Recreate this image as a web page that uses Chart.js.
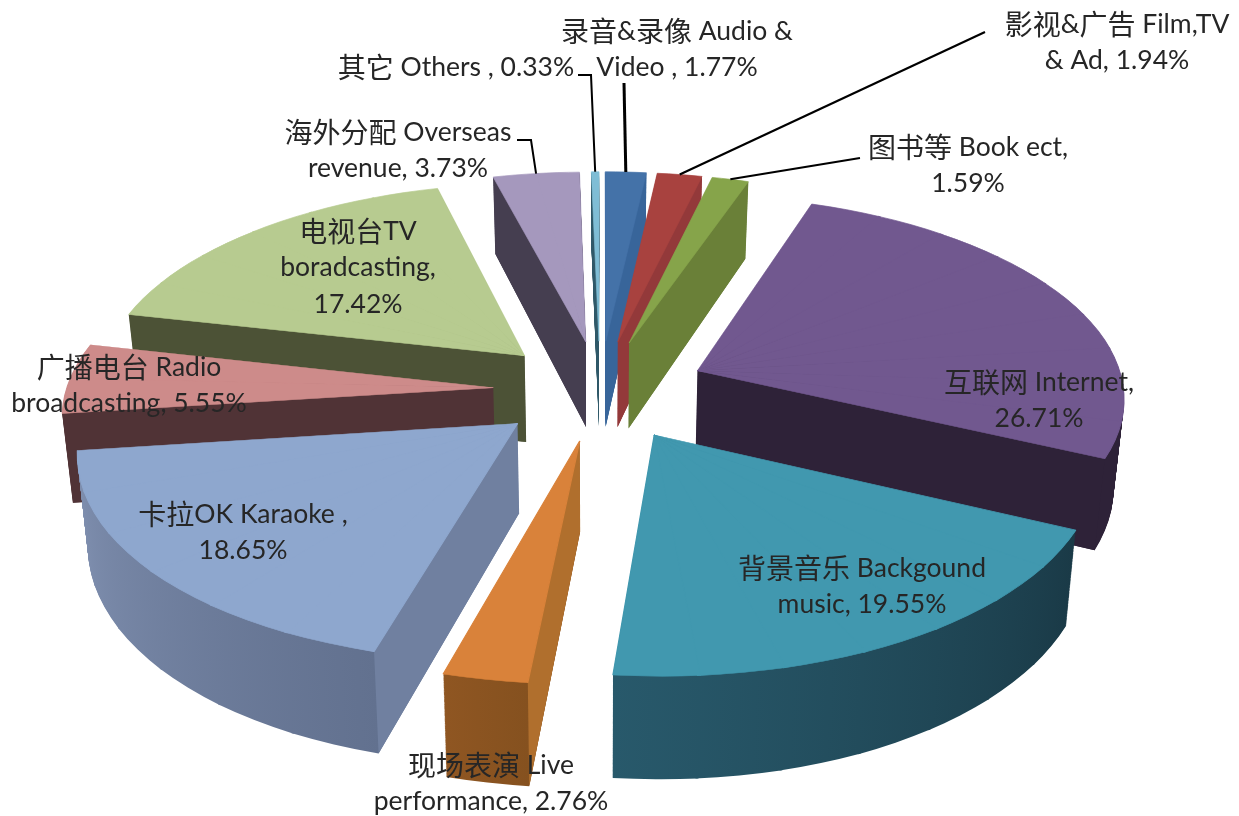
<!DOCTYPE html>
<html>
<head>
<meta charset="utf-8">
<title>Revenue share pie</title>
<script src="https://cdn.jsdelivr.net/npm/chart.js@4"></script>
<style>
  html, body { margin: 0; padding: 0; background: #fff; }
  canvas { display: block; }
</style>
</head>
<body>
<canvas id="canvas" width="1239" height="816"></canvas>
<script>
// the data, clockwise from the top
let categories = ['录音&录像 Audio & Video', '影视&广告 Film,TV & Ad', '图书等 Book ect', '互联网 Internet',
  '背景音乐 Backgound music', '现场表演 Live performance', '卡拉OK Karaoke', '广播电台 Radio broadcasting',
  '电视台TV boradcasting', '海外分配 Overseas revenue', '其它 Others'];
let shares = [1.77, 1.94, 1.59, 26.71, 19.55, 2.76, 18.65, 5.55, 17.42, 3.73, 0.33];

// the label text, line by line
let labelLines = [
  ['录音&录像 Audio &', 'Video , 1.77%'],
  ['影视&广告 Film,TV', '& Ad, 1.94%'],
  ['图书等 Book ect,', '1.59%'],
  ['互联网 Internet,', '26.71%'],
  ['背景音乐 Backgound', 'music, 19.55%'],
  ['现场表演 Live', 'performance, 2.76%'],
  ['卡拉OK Karaoke ,', '18.65%'],
  ['广播电台 Radio', 'broadcasting, 5.55%'],
  ['电视台TV', 'boradcasting,', '17.42%'],
  ['海外分配 Overseas', 'revenue, 3.73%'],
  ['其它 Others , 0.33%']
];

// colours of each slice
let topColors = ['#4472a8', '#a8423f', '#86a44a', '#71588f', '#4198af', '#d9823a', '#8ea7ce', '#cd8b8a', '#b7cb90', '#a598bd', '#7fbdd5'];
let cutColors = ['#38659a', '#93393a', '#6a8038', '#2e2238', '#1a3c49', '#b06f2d', '#7080a0', '#503336', '#4c5236', '#453e50', '#2f5868'];
let rimStart = ['#38659a', '#93393a', '#6a8038', '#2e2238', '#1a3a47', '#85511f', '#62718f', '#503336', '#4c5236', '#453e50', '#2f5868'];
let rimEnd = ['#38659a', '#93393a', '#6a8038', '#2e2238', '#28596b', '#8f5622', '#8090b0', '#503336', '#4c5236', '#453e50', '#2f5868'];

// where the labels sit (centre x, centre y of the first line)
let labelX = [677, 1117, 968, 1039, 862, 491, 243, 129, 358, 398, 456];
let labelY = [31, 24, 147, 382, 568, 765, 514, 367, 231, 132, 67];
let lineGap = 36.5;

// leader lines: the points before the one on the slice rim
let leaders = {
  0: { width: 3, points: [[624, 83]] },
  1: { width: 2.2, points: [[985, 32]] },
  2: { width: 2, points: [[860, 158]] },
  9: { width: 2, points: [[517, 140], [531, 140]] },
  10: { width: 2, points: [[578, 75], [591, 75]] }
};

// fake 3d view of the pie
let view = { cx: 600, cy: 390, radius: 427, explode: 107, tilt: 0.47, persp: 0.12, depth: 88, shrink: 0.02, step: 0.2 };

function project(x, y, z) {
  let w = 1 + view.persp * y / view.radius;
  let sx = view.cx + x / w;
  let sy = view.cy - view.tilt * y / w;
  return [view.cx + (sx - view.cx) * (1 - view.shrink * z), sy + view.depth * z / w];
}

// corners of a slice on the screen; a and b are chart angles and may be a part of the slice
function corners(arc, z, a0, b0) {
  let m = (arc.startAngle + arc.endAngle) / 2 + Math.PI / 2;
  let a = (a0 === undefined ? arc.startAngle : a0) + Math.PI / 2;
  let b = (b0 === undefined ? arc.endAngle : b0) + Math.PI / 2;
  let ox = view.explode * Math.sin(m);
  let oy = view.explode * Math.cos(m);
  let r = view.radius;
  return {
    apex: project(ox, oy, z),
    start: project(ox + r * Math.sin(a), oy + r * Math.cos(a), z),
    end: project(ox + r * Math.sin(b), oy + r * Math.cos(b), z),
    mid: project(ox + r * Math.sin(m), oy + r * Math.cos(m), z)
  };
}

// draw the library's arc, mapped on to the screen corners. canvas transforms
// can't do perspective so wide slices go in small wedges, each with its own map
function drawArc(ctx, arc, z, fill) {
  let first = arc.startAngle, last = arc.endAngle, sweep = arc.circumference;
  let saved = arc.options;
  let r = arc.outerRadius;
  let fillStyle = fill;
  let border = { borderWidth: 1, borderColor: fill };
  if (Array.isArray(fill)) {
    fillStyle = ctx.createLinearGradient(arc.x + r * Math.cos(first), arc.y + r * Math.sin(first),
      arc.x + r * Math.cos(last), arc.y + r * Math.sin(last));
    fillStyle.addColorStop(0, fill[0]);
    fillStyle.addColorStop(1, fill[1]);
    border = { borderWidth: 0 };
  }
  // a thin border of the same colour hides the seams on the top face
  arc.options = Object.assign({}, saved, { backgroundColor: fillStyle }, border);
  let parts = Math.max(1, Math.ceil(sweep / view.step));
  for (let n = 0; n < parts; n++) {
    let a = first + sweep * n / parts;
    let b = first + sweep * (n + 1) / parts;
    let c = corners({ startAngle: first, endAngle: last }, z, a, b);
    let ux = r * Math.cos(a), uy = r * Math.sin(a);
    let vx = r * Math.cos(b), vy = r * Math.sin(b);
    let det = ux * vy - uy * vx;
    let px = c.start[0] - c.apex[0], py = c.start[1] - c.apex[1];
    let qx = c.end[0] - c.apex[0], qy = c.end[1] - c.apex[1];
    let ma = (px * vy - qx * uy) / det;
    let mc = (qx * ux - px * vx) / det;
    let mb = (py * vy - qy * uy) / det;
    let md = (qy * ux - py * vx) / det;
    ctx.save();
    ctx.transform(ma, mb, mc, md, c.apex[0] - ma * arc.x - mc * arc.y, c.apex[1] - mb * arc.x - md * arc.y);
    // small overlap so no seams show between the wedges
    arc.startAngle = a;
    arc.endAngle = n === parts - 1 ? b : b + 0.006;
    arc.circumference = arc.endAngle - a;
    arc.draw(ctx);
    ctx.restore();
  }
  arc.startAngle = first;
  arc.endAngle = last;
  arc.circumference = sweep;
  arc.options = saved;
}

// the flat cut faces, only the ones turned to the viewer
function drawCut(ctx, arc, edge, other, color) {
  let top = corners(arc, 0), bottom = corners(arc, 1);
  let dx = top[edge][0] - top.apex[0], dy = top[edge][1] - top.apex[1];
  let nx = -dy, ny = dx;
  if (ny < 0) { nx = -nx; ny = -ny; }
  let side = (top[other][0] - top.apex[0]) * nx + (top[other][1] - top.apex[1]) * ny;
  if (side >= 0) return;
  ctx.fillStyle = color;
  ctx.beginPath();
  ctx.moveTo(top.apex[0], top.apex[1]);
  ctx.lineTo(top[edge][0], top[edge][1]);
  ctx.lineTo(bottom[edge][0], bottom[edge][1]);
  ctx.lineTo(bottom.apex[0], bottom.apex[1]);
  ctx.closePath();
  ctx.fill();
}

let pie3d = {
  id: 'pie3d',
  beforeDatasetsDraw: function(chart) {
    let ctx = chart.ctx;
    let arcs = chart.getDatasetMeta(0).data;
    // paint from the back of the pie to the front
    let order = arcs.map((arc, i) => i).sort(function(i, j) {
      return corners(arcs[i], 0).apex[1] - corners(arcs[j], 0).apex[1];
    });
    order.forEach(function(i) {
      let arc = arcs[i];
      for (let d = view.depth; d > 0; d--) {
        drawArc(ctx, arc, d / view.depth, [rimStart[i], rimEnd[i]]);
      }
      drawCut(ctx, arc, 'start', 'end', cutColors[i]);
      drawCut(ctx, arc, 'end', 'start', cutColors[i]);
      drawArc(ctx, arc, 0, topColors[i]);
    });
    return false;
  },
  afterDraw: function(chart) {
    let ctx = chart.ctx;
    let arcs = chart.getDatasetMeta(0).data;
    ctx.save();
    ctx.strokeStyle = '#000';
    ctx.lineJoin = 'miter';
    Object.keys(leaders).forEach(function(key) {
      let leader = leaders[key];
      let tip = corners(arcs[key], 0).mid;
      ctx.lineWidth = leader.width;
      ctx.beginPath();
      leader.points.forEach(function(p, n) {
        if (n === 0) ctx.moveTo(p[0], p[1]); else ctx.lineTo(p[0], p[1]);
      });
      ctx.lineTo(tip[0], tip[1]);
      ctx.stroke();
    });
    ctx.fillStyle = '#262626';
    ctx.textBaseline = 'middle';
    labelLines.forEach(function(lines, i) {
      lines.forEach(function(line, n) {
        drawLine(ctx, line, labelX[i], labelY[i] + n * lineGap);
      });
    });
    ctx.restore();
  }
};

// chinese runs are a little larger than the latin ones
function drawLine(ctx, line, x, y) {
  let runs = line.match(/[\u4e00-\u9fff]+|[^\u4e00-\u9fff]+/g);
  let fonts = runs.map(r => /[\u4e00-\u9fff]/.test(r) ? '28px "Noto Sans CJK SC"' : '26.5px Lato');
  let total = 0;
  let widths = runs.map(function(r, n) {
    ctx.font = fonts[n];
    let w = ctx.measureText(r).width;
    total += w;
    return w;
  });
  let left = x - total / 2;
  ctx.textAlign = 'left';
  runs.forEach(function(r, n) {
    ctx.font = fonts[n];
    ctx.fillText(r, left, y);
    left += widths[n];
  });
}

let options = {
  type: 'pie',
  data: {
    labels: categories,
    datasets: [{
      data: shares,
      backgroundColor: topColors,
      borderWidth: 0
    }]
  },
  options: {
    responsive: false,
    animation: false,
    plugins: { legend: { display: false }, tooltip: { enabled: false } }
  },
  plugins: [pie3d]
};

let chart = new Chart(document.getElementById('canvas'), options);
</script>
</body>
</html>
